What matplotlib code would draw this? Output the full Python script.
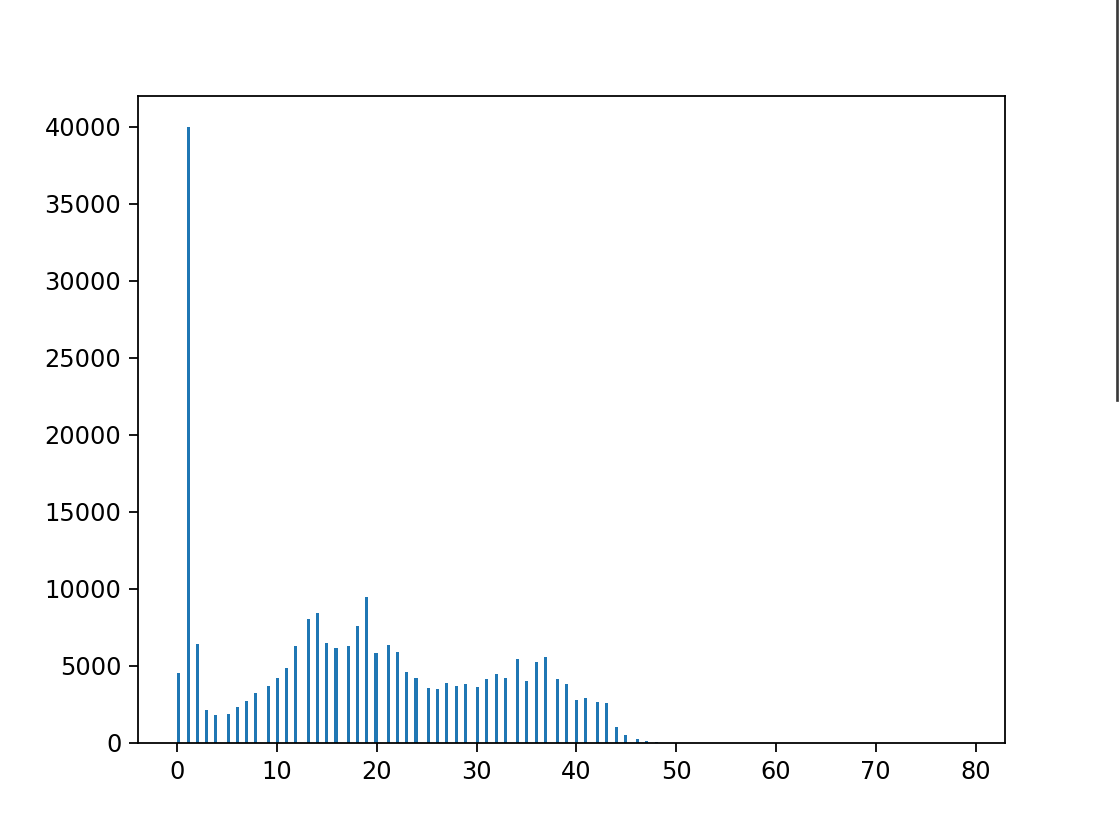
import numpy as np
import matplotlib
matplotlib.use('Agg')
import matplotlib.pyplot as plt
from matplotlib.lines import Line2D

# value -> how many times it occurs
values = np.arange(80)
counts = [4550, 40000, 6420, 2140, 1820, 1880, 2330, 2720, 3240, 3700,
          4220, 4870, 6300, 8050, 8440, 6490, 6170, 6300, 7600, 9480,
          5840, 6360, 5900, 4610, 4220, 3570, 3500, 3890, 3700, 3830,
          3630, 4150, 4480, 4220, 5450, 4020, 5260, 5580, 4150, 3830,
          2790, 2920, 2660, 2600, 1040, 500, 240, 120, 40, 20,
          10, 8, 5, 4, 3, 2, 2, 1, 1, 1,
          1, 1, 1, 1, 1, 1, 1, 1, 1, 1,
          1, 1, 1, 1, 1, 1, 1, 1, 1, 1]

dpi = 160
plt.rcParams['font.size'] = 10.8
fig = plt.figure(figsize=(1120/dpi, 830/dpi), dpi=dpi)
ax = fig.add_axes([138/1120, 1-743/830, (1005-138)/1120, (743-96)/830])
ax.hist(values, bins=256, weights=counts)
ax.tick_params(length=4)

# window edge seen at the right of the screenshot
fig.add_artist(Line2D([1117/1120, 1117/1120], [1-400/830, 1], color='#3a3a3a', lw=1.2))

fig.savefig('out.png', dpi=dpi)
